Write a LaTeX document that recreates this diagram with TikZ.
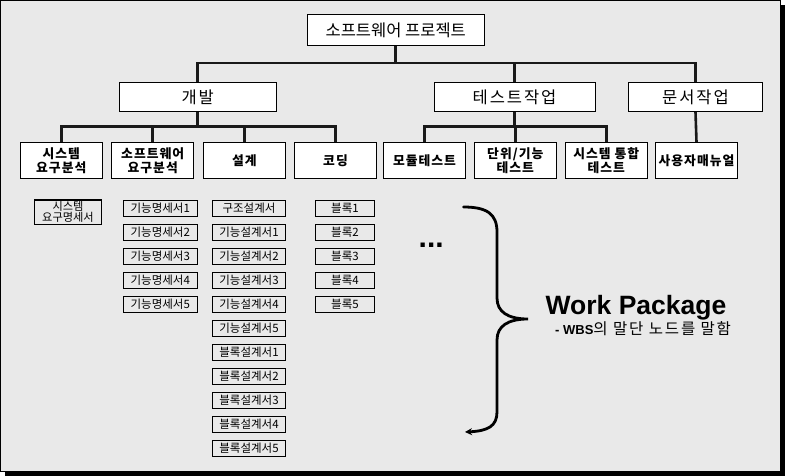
\documentclass[tikz,border=0pt]{standalone}
\usepackage{fontspec}
\setmainfont{Liberation Sans}
\newfontfamily\kr{Noto Sans CJK KR}
\newfontfamily\krw{Noto Sans CJK KR}[LetterSpace=12]
\newfontfamily\krb{Noto Sans CJK KR}[LetterSpace=8]
\usetikzlibrary{arrows.meta}
\definecolor{bg}{HTML}{E9E9E9}
\tikzset{
  conn/.style={line width=2.6pt, black!90},
  topbox/.style={draw, fill=white, line width=0.9pt, inner sep=0pt, align=center,
    minimum height=29pt, font=\krw\fontsize{16.5}{18}\selectfont},
  lvbox/.style={draw, fill=white, line width=0.9pt, inner sep=0pt, align=center,
    minimum width=82pt, minimum height=36.4pt, font=\krb\bfseries\fontsize{12.8}{14}\selectfont},
  wp/.style={draw, fill=bg, line width=1.1pt, inner sep=0pt, align=center,
    minimum height=15.6pt, font=\kr\fontsize{11.5}{11}\selectfont},
}
\begin{document}
\begin{tikzpicture}[x=1pt,y=-1pt]
\useasboundingbox (0,0) rectangle (785,476);
% frame with shadow
\fill[black] (5,5) rectangle (785,476);
\draw[fill=bg, line width=1pt] (0.5,0.5) rectangle (780.5,471);

% level 0 and 1
\node[topbox, minimum width=177.5pt, minimum height=30.5pt, font=\kr\fontsize{16.5}{18}\selectfont] (top) at (395.75,30) {소프트웨어 프로젝트};
\node[topbox, minimum width=157.5pt] (dev) at (197.75,97.2) {개발};
\node[topbox, minimum width=161pt] (test) at (514.5,97.2) {테스트작업};
\node[topbox, minimum width=134pt] (doc) at (695.5,97.2) {문서작업};

% level 2
\node[lvbox] (sysreq) at (61.3,160.5) {시스템\\요구분석};
\node[lvbox] (swreq) at (152.7,160.5) {소프트웨어\\요구분석};
\node[lvbox] (design) at (244.3,160.5) {설계};
\node[lvbox] (coding) at (335.5,160.5) {코딩};
\node[lvbox] (module) at (424.5,160.5) {모듈테스트};
\node[lvbox] (unit) at (515.3,160.5) {단위/기능\\테스트};
\node[lvbox] (integ) at (606.3,160.5) {시스템 통합\\테스트};
\node[lvbox] (manual) at (696.5,160.5) {사용자매뉴얼};

% connectors
\coordinate (b1) at (396,63);
\coordinate (b2) at (198,126.5);
\coordinate (b3) at (515,126.5);
\draw[conn] (top.south) -- (top.south |- b1);
\draw[conn] (dev.north) |- (b1) -| (doc.north);
\draw[conn] (test.north) -- (test.north |- b1);
\draw[conn] (dev.south) -- (dev.south |- b2);
\draw[conn] (sysreq.north) |- (b2) -| (coding.north);
\draw[conn] (swreq.north) -- (swreq.north |- b2);
\draw[conn] (design.north) -- (design.north |- b2);
\draw[conn] (test.south) -- (test.south |- b3);
\draw[conn] (module.north) |- (b3) -| (integ.north);
\draw[conn] (unit.north) -- (unit.north |- b3);
\draw[conn] (doc.south) -- (manual.north);

% work packages
\node[wp, minimum width=67pt, minimum height=24.3pt, font=\kr\fontsize{11.2}{10.8}\selectfont] (sysspec) at (68,212.2) {시스템\\요구명세서};
\foreach \k in {1,...,5} {
  \node[wp, minimum width=74pt] (func\k) at (160.3,{208.5+24*(\k-1)}) {기능명세서\k};
  \node[wp, minimum width=59.4pt] (block\k) at (345,{208.5+24*(\k-1)}) {블록\k};
  \node[wp, minimum width=73.4pt] (fdes\k) at (249,{232.4+24*(\k-1)}) {기능설계서\k};
  \node[wp, minimum width=73.4pt] (bdes\k) at (249,{352.4+24*(\k-1)}) {블록설계서\k};
}
\node[wp, minimum width=73.4pt] (struct) at (249,208.4) {구조설계서};

% dots
\node[anchor=base west, inner sep=0pt, font=\bfseries\fontsize{30}{30}\selectfont] (dots) at (418.5,247.5) {...};

% brace
\draw[line width=2.8pt, line cap=round, -{Stealth[length=7pt,width=7pt]}]
  (463.5,207) .. controls (487,207) and (497,214) .. (497,232)
  -- (497,298) .. controls (497,312) and (508,319) .. (528,319)
  .. controls (508,319) and (497,326) .. (497,340)
  -- (497,412) .. controls (497,426) and (488,431) .. (465,432);

% label
\node[anchor=base west, inner sep=0pt, font=\bfseries\fontsize{26.5}{28}\selectfont] (wplabel) at (545.5,314) {Work Package};
\node[anchor=base west, inner sep=0pt] (wpsub) at (555,334.5) {{\bfseries\fontsize{13}{14}\selectfont - WBS}{\krw\fontsize{15.5}{16}\selectfont 의 말단 노드를 말함}};
\end{tikzpicture}
\end{document}
